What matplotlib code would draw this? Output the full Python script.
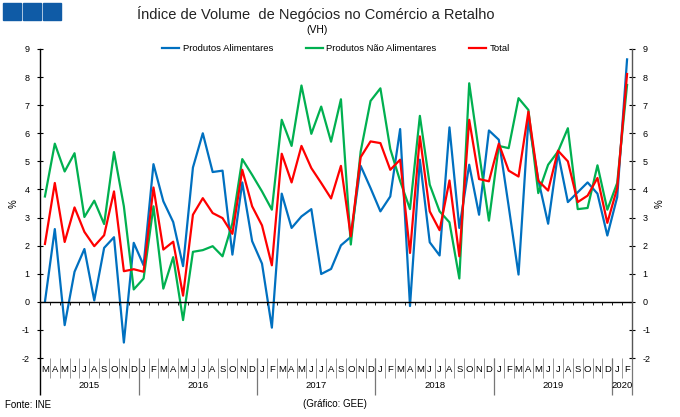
import numpy as np
import matplotlib.pyplot as plt
from matplotlib.patches import Rectangle

plt.rcParams['font.family'] = ['Liberation Sans', 'DejaVu Sans']
plt.rcParams['axes.unicode_minus'] = False

# months from Mar 2015 to Feb 2020
months = ['M', 'A', 'M', 'J', 'J', 'A', 'S', 'O', 'N', 'D'] + \
         ['J', 'F', 'M', 'A', 'M', 'J', 'J', 'A', 'S', 'O', 'N', 'D'] * 4 + ['J', 'F']
years = ['2015', '2016', '2017', '2018', '2019', '2020']
year_len = [10, 12, 12, 12, 12, 2]

alimentares = [0.0, 2.59, -0.83, 1.07, 1.88, 0.05, 1.92, 2.30, -1.45, 2.10,
               1.30, 4.90, 3.58, 2.84, 1.27, 4.78, 6.00, 4.62, 4.67, 1.68, 4.25, 2.16,
               1.36, -0.92, 3.85, 2.63, 3.04, 3.30, 0.99, 1.17, 2.01, 2.31, 4.84, 4.05,
               3.22, 3.75, 6.15, -0.15, 5.06, 2.12, 1.65, 6.21, 2.63, 4.88, 3.10, 6.10,
               5.77, 3.40, 0.97, 6.48, 4.35, 2.78, 5.29, 3.55, 3.90, 4.25, 3.85, 2.36,
               3.73, 8.63]
nao_alimentares = [3.75, 5.63, 4.64, 5.29, 3.02, 3.60, 2.77, 5.33, 3.40, 0.44,
                   0.83, 3.40, 0.47, 1.59, -0.65, 1.78, 1.84, 1.98, 1.62, 2.80, 5.08, 4.52,
                   3.93, 3.28, 6.48, 5.55, 7.70, 5.98, 6.95, 5.70, 7.21, 2.04, 5.35, 7.15,
                   7.60, 5.44, 4.30, 3.30, 6.62, 4.17, 3.22, 2.83, 0.83, 7.78, 5.30, 2.89,
                   5.55, 5.47, 7.25, 6.83, 3.87, 4.88, 5.35, 6.18, 3.30, 3.34, 4.86, 3.28,
                   4.23, 7.72]
total = [2.06, 4.23, 2.13, 3.36, 2.49, 1.98, 2.37, 3.93, 1.09, 1.16,
         1.07, 4.07, 1.86, 2.14, 0.22, 3.10, 3.69, 3.16, 2.98, 2.42, 4.70, 3.40,
         2.72, 1.30, 5.27, 4.25, 5.55, 4.76, 4.23, 3.68, 4.84, 2.33, 5.15, 5.71,
         5.65, 4.70, 5.06, 1.74, 5.89, 3.22, 2.55, 4.32, 1.62, 6.48, 4.37, 4.29,
         5.63, 4.67, 4.46, 6.77, 4.31, 3.96, 5.38, 5.00, 3.55, 3.78, 4.41, 2.81,
         4.05, 8.11]

x = np.arange(len(months))

fig = plt.figure(figsize=(6.8, 4.17), dpi=100)
ax = fig.add_axes([40/680, 1-358/417, 592/680, 309/417])

ax.plot(x, alimentares, color='#0070C0', lw=1.6, label='Produtos Alimentares')
ax.plot(x, nao_alimentares, color='#00B050', lw=1.6, label='Produtos Não Alimentares')
ax.plot(x, total, color='#FF0000', lw=1.6, label='Total')

ax.set_xlim(-0.5, len(months)-0.5)
ax.set_ylim(-2, 9)
ax.set_yticks(range(-2, 10))
ax.set_xticks([])
ax.tick_params(axis='y', direction='inout', length=5, width=0.8, labelsize=6.5, pad=5,
               right=True, labelright=True)
for s in ['top', 'bottom']:
    ax.spines[s].set_visible(False)
ax.spines['left'].set_linewidth(1.0)
ax.spines['right'].set_linewidth(1.0)
ax.spines['right'].set_color('#555555')

# zero line with small ticks at month boundaries
ax.axhline(0, color='black', lw=1.0)
bounds = np.arange(-0.5, len(months))
ax.vlines(bounds[1:-1], -0.12, 0, color='black', lw=0.6)

# category labels below the plot
tr = ax.get_xaxis_transform()
for i, m in enumerate(months):
    ax.text(i, -0.036, m, transform=tr, ha='center', va='center', fontsize=6.8)
ax.vlines(bounds, -0.065, 0, transform=tr, color='#999999', lw=0.7, clip_on=False)
start = 0
for yr, n in zip(years, year_len):
    ax.text(start + n/2 - 0.5, -0.088, yr, transform=tr, ha='center', va='center', fontsize=6.8)
    start += n
    ax.vlines(start - 0.5, -0.12, 0, transform=tr, color='#777777', lw=0.9, clip_on=False)
ax.vlines(-0.5, -0.12, 0, transform=tr, color='black', lw=1.0, clip_on=False)

ax.set_ylabel('%', fontsize=7, labelpad=2)
ax.text(1.038, 0.5, '%', transform=ax.transAxes, fontsize=7, rotation=90, va='center')

leg = ax.legend(loc='upper center', bbox_to_anchor=(0.5, 1.035), ncol=3, frameon=False,
                fontsize=6.8, handlelength=1.8, handletextpad=0.4, columnspacing=3.4,
                borderaxespad=0.2)

fig.text(0.465, 0.966, 'Índice de Volume  de Negócios no Comércio a Retalho', ha='center',
         va='center', fontsize=10.5, color='#222222')
fig.text(0.466, 0.928, '(VH)', ha='center', va='center', fontsize=7.5)
fig.text(5/680, 1-405/417, 'Fonte: INE', ha='left', va='center', fontsize=7)
fig.text(335/680, 1-404/417, '(Gráfico: GEE)', ha='center', va='center', fontsize=7)

for k in range(3):
    fig.patches.append(Rectangle(((3 + 20*k)/680, 1-20/417), 18/680, 17/417,
                                 transform=fig.transFigure, color='#0f5ba6'))

plt.savefig('out.png', dpi=100)
